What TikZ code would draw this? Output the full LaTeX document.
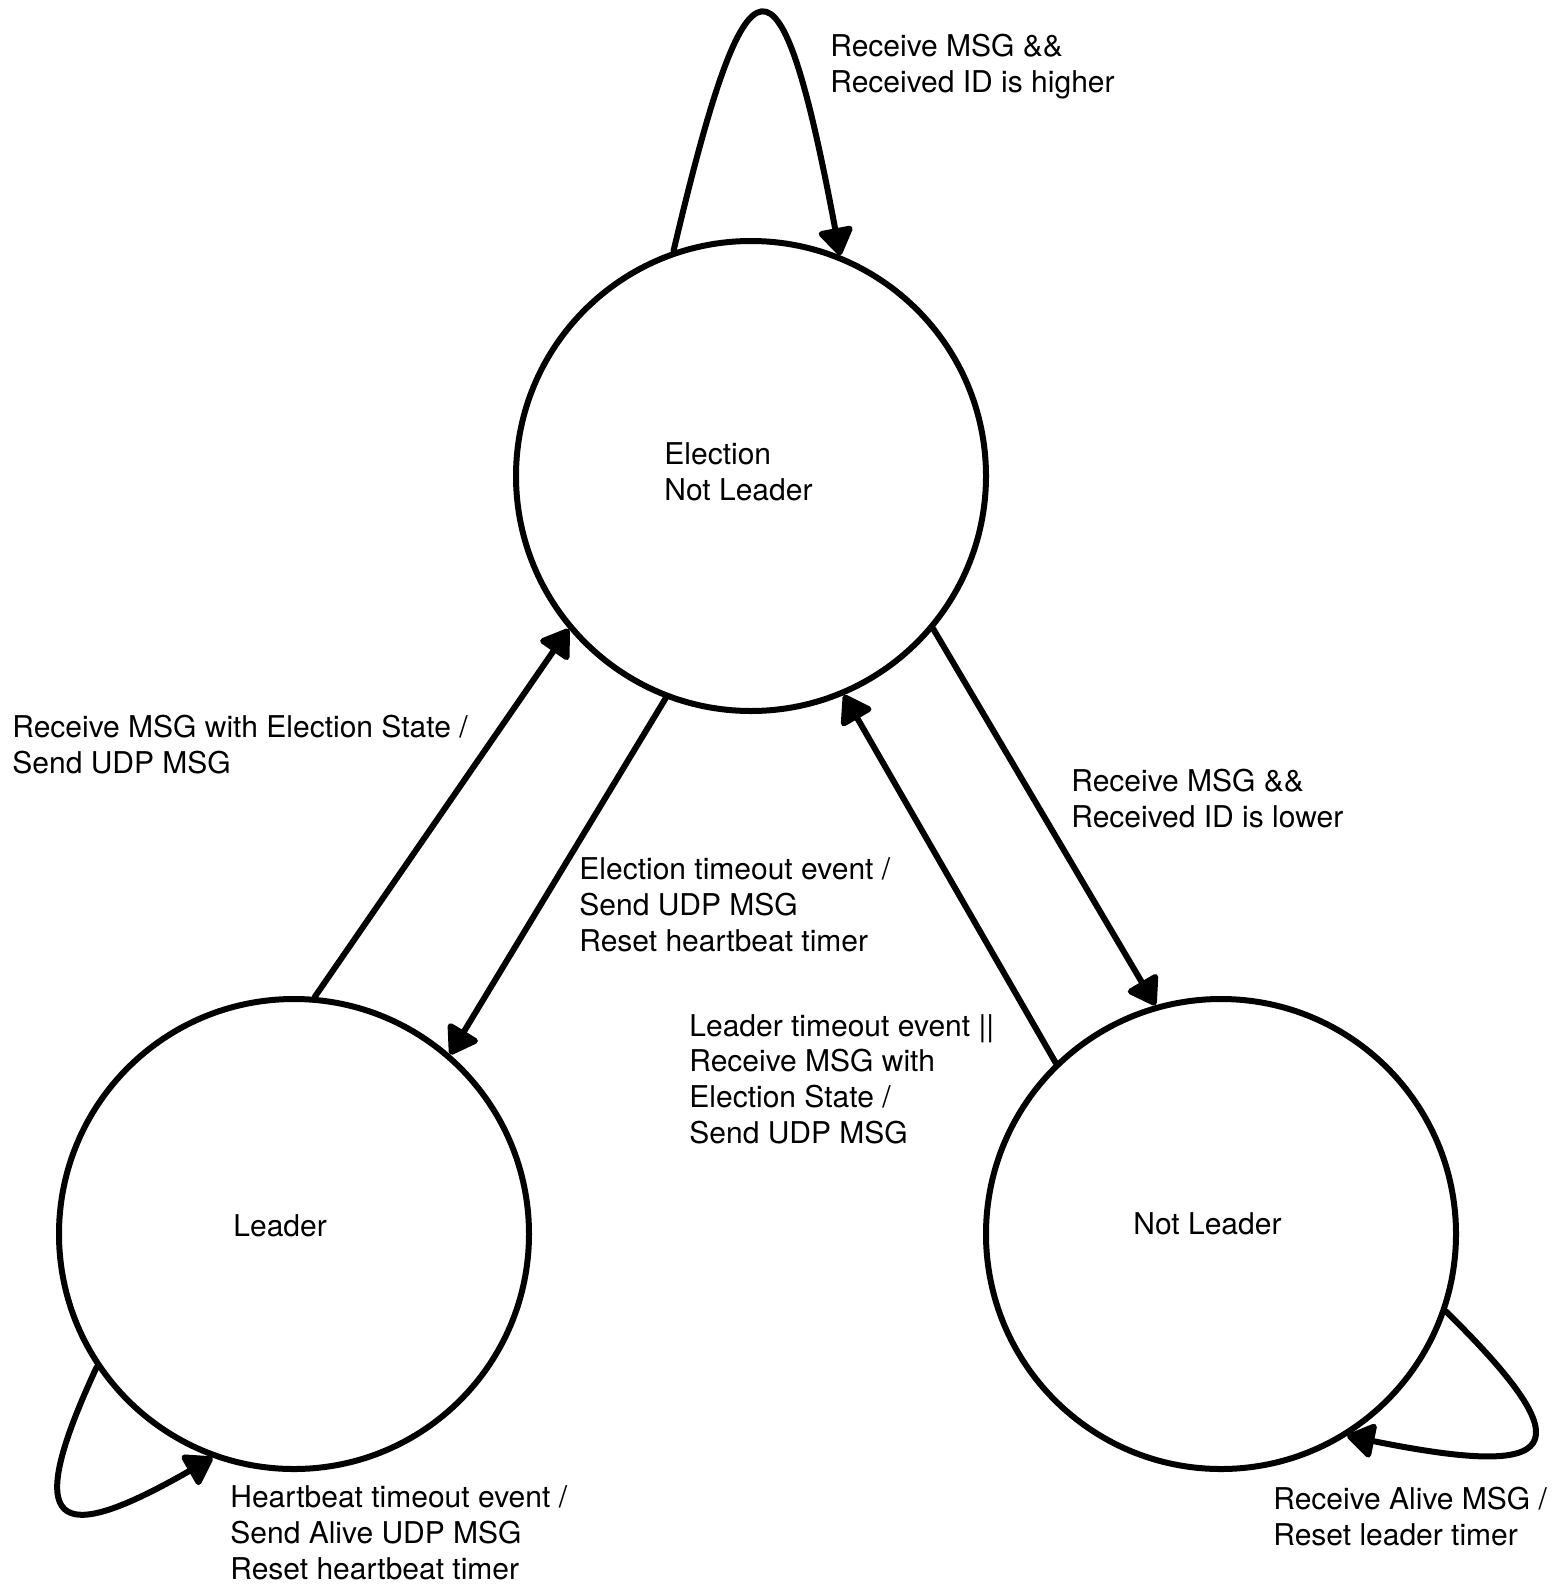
\documentclass[tikz,border=0pt]{standalone}
\usepackage{fontspec}
\setmainfont{TeX Gyre Heros}
\usetikzlibrary{arrows.meta}
\tikzset{
  every picture/.style={line join=round, line cap=round, >={Triangle[length=15pt,width=19pt,round]}},
  state/.style={draw, circle, line width=3pt, minimum size=235pt, inner sep=0pt},
  lbl/.style={anchor=base west, align=left, inner sep=0pt, font=\fontsize{15}{17.8}\selectfont},
  trans/.style={->, line width=3pt},
}
\begin{document}
\begin{tikzpicture}[x=0.5pt,y=-0.5pt]
\fill[white] (0,0) rectangle (1553,1590);
\useasboundingbox (0,0) rectangle (1553,1590);
\node[state] (el) at (751,476) {};
\node[state] (ld) at (294,1234) {};
\node[state] (nl) at (1221,1234) {};
\node[lbl] (elt) at (664,500) {Election\\Not Leader};
\node[lbl] (ldt) at (233,1236) {Leader};
\node[lbl] (nlt) at (1133,1234) {Not Leader};
\draw[trans] (el.109) .. controls (748,-65) and (780,-65) .. (el.68);
\draw[trans] (ld.85) -- (el.220);
\draw[trans] (el.249) -- (ld.49);
\draw[trans] (el.320) -- (nl.106);
\draw[trans] (nl.134) -- (el.293);
\draw[trans] (ld.214) .. controls (21,1530) and (55,1548) .. (ld.250);
\draw[trans] (nl.341) .. controls (1588,1451) and (1561,1479) .. (nl.302);
\node[lbl] (higher) at (830,92) {Receive MSG \&\&\\Received ID is higher};
\node[lbl] (elstate) at (12,773) {Receive MSG with Election State /\\Send UDP MSG};
\node[lbl] (eltimeout) at (579,951) {Election timeout event /\\Send UDP MSG\\Reset heartbeat timer};
\node[lbl] (lower) at (1071,827) {Receive MSG \&\&\\Received ID is lower};
\node[lbl] (ldtimeout) at (689,1143) {Leader timeout event ||\\Receive MSG with\\Election State /\\Send UDP MSG};
\node[lbl] (heartbeat) at (230,1579) {Heartbeat timeout event /\\Send Alive UDP MSG\\Reset heartbeat timer};
\node[lbl] (alive) at (1273,1545) {Receive Alive MSG /\\Reset leader timer};
\end{tikzpicture}
\end{document}
